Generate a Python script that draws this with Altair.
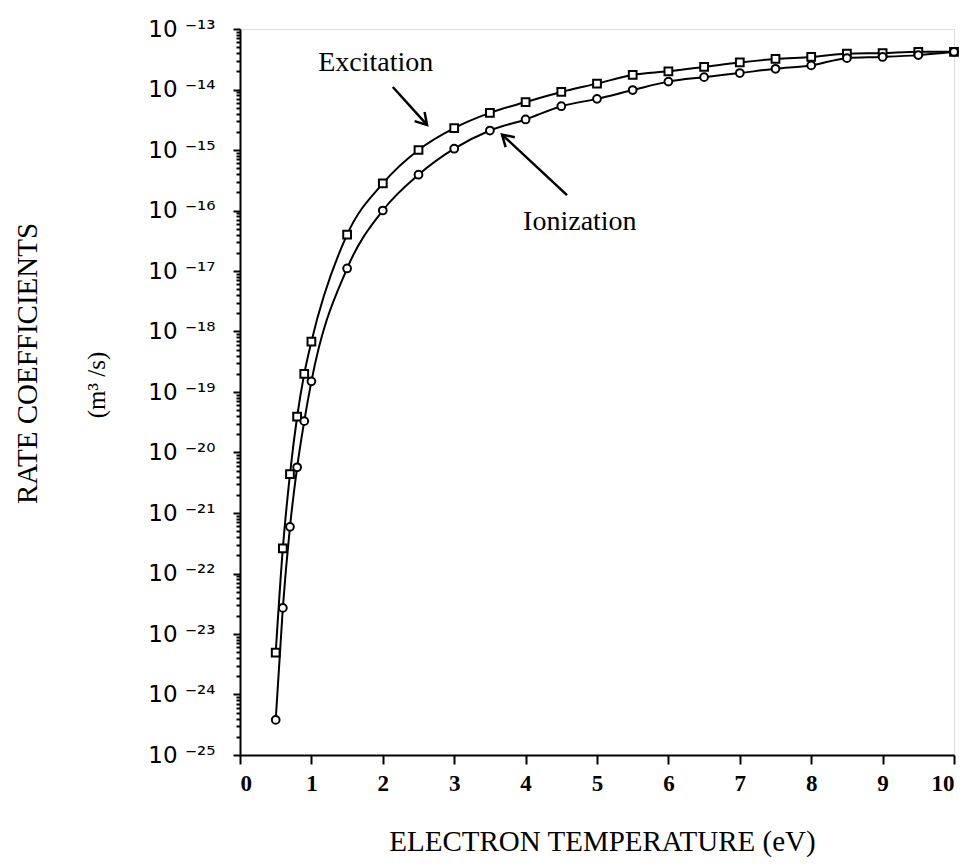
import json
import altair as alt
import pandas as pd

# Electron temperature (eV) at which the rate coefficients were computed
temperature = [0.5, 0.6, 0.7, 0.8, 0.9, 1.0, 1.5, 2.0, 2.5, 3.0, 3.5, 4.0,
               4.5, 5.0, 5.5, 6.0, 6.5, 7.0, 7.5, 8.0, 8.5, 9.0, 9.5, 10.0]

# Rate coefficients (m^3/s)
excitation = [4.9e-24, 2.6e-22, 4.4e-21, 3.9e-20, 2.0e-19, 6.8e-19, 4.0e-17,
              2.8e-16, 1.0e-15, 2.3e-15, 4.1e-15, 6.2e-15, 9.1e-15, 1.25e-14,
              1.74e-14, 2.0e-14, 2.36e-14, 2.8e-14, 3.2e-14, 3.45e-14,
              3.9e-14, 4.0e-14, 4.2e-14, 4.2e-14]
ionization = [3.8e-25, 2.7e-23, 5.9e-22, 5.7e-21, 3.3e-20, 1.5e-19, 1.1e-17,
              1.0e-16, 3.9e-16, 1.05e-15, 2.1e-15, 3.2e-15, 5.3e-15, 7.0e-15,
              9.8e-15, 1.35e-14, 1.6e-14, 1.87e-14, 2.2e-14, 2.5e-14,
              3.3e-14, 3.45e-14, 3.7e-14, 4.2e-14]

# Decade tick labels, from 1e-13 down to 1e-25
decade_labels = ["10 ⁻¹³", "10 ⁻¹⁴", "10 ⁻¹⁵", "10 ⁻¹⁶", "10 ⁻¹⁷", "10 ⁻¹⁸",
                 "10 ⁻¹⁹", "10 ⁻²⁰", "10 ⁻²¹", "10 ⁻²²", "10 ⁻²³", "10 ⁻²⁴",
                 "10 ⁻²⁵"]

# Curve annotations: label text and position, arrow tail/head and head angle
ann_text = ["Excitation", "Ionization"]
ann_x = [1.90, 4.76]
ann_y = [2.75e-14, 6.5e-17]
arrow_x = [2.14, 4.58]
arrow_y = [1.1e-14, 1.8e-16]
arrow_x2 = [2.62, 3.67]
arrow_y2 = [2.6e-15, 1.8e-15]
arrow_angle = [138, 313]

SERIF = "Liberation Serif"

df = pd.DataFrame({
    "T": temperature * 2,
    "k": excitation + ionization,
    "series": ["Excitation"] * len(temperature) + ["Ionization"] * len(temperature),
})
ann = pd.DataFrame({"text": ann_text, "x": ann_x, "y": ann_y})
arrows = pd.DataFrame({"x": arrow_x, "y": arrow_y, "x2": arrow_x2,
                       "y2": arrow_y2, "angle": arrow_angle})
units = pd.DataFrame({"t": ["(m³ /s)"]})

x_ticks = [i * 0.5 for i in range(21)]
y_ticks = [m * 10.0 ** e for e in range(-25, -12) for m in range(1, 10)
           if m * 10.0 ** e <= 1.0000001e-13]

is_decade = "abs(log(datum.value)/LN10 - round(log(datum.value)/LN10)) < 0.01"
y_label_expr = (is_decade + " ? " + json.dumps(decade_labels, ensure_ascii=False)
                + "[round(-log(datum.value)/LN10) - 13] : ''")

x_scale = alt.Scale(domain=[0, 10], nice=False, zero=False)
y_scale = alt.Scale(type="log", domain=[1e-25, 1e-13], nice=False)

x_axis = alt.Axis(
    values=x_ticks,
    labelExpr="datum.value % 1 === 0 ? format(datum.value, 'd') : ''",
    labelOverlap=False,
    tickSize={"condition": {"test": "datum.value % 1 === 0", "value": 9}, "value": 5},
    tickWidth=2, tickColor="black",
    labelFont=SERIF, labelFontSize=23, labelFontWeight="bold", labelColor="black",
    labelPadding=8,
    domainColor="black", domainWidth=2, grid=False,
    title="ELECTRON TEMPERATURE (eV)", titleFont=SERIF, titleFontSize=29,
    titleFontWeight="normal", titleColor="black",
    titleX=362, titleY=86, titleAlign="center", titleBaseline="middle",
)
y_axis = alt.Axis(
    values=y_ticks,
    labelExpr=y_label_expr,
    labelOverlap=False,
    tickSize={"condition": {"test": is_decade, "value": 7}, "value": 4},
    tickWidth=2, tickColor="black",
    labelFont="DejaVu Sans", labelFontSize=23, labelColor="black",
    labelPadding=18, labelBaseline="middle",
    domainColor="black", domainWidth=2, grid=False,
    title="RATE COEFFICIENTS", titleFont=SERIF, titleFontSize=29,
    titleFontWeight="normal", titleColor="black",
    titleAngle=270, titleX=-213, titleY=334, titleAlign="center",
    titleBaseline="middle",
)

base = alt.Chart(df)

lines = base.mark_line(color="black", strokeWidth=2, interpolate="monotone").encode(
    x=alt.X("T:Q", scale=x_scale, axis=x_axis),
    y=alt.Y("k:Q", scale=y_scale, axis=y_axis),
    detail="series:N",
)

points = base.mark_point(filled=True, fill="white", stroke="black",
                         strokeWidth=2, size=60, opacity=1).encode(
    x="T:Q",
    y="k:Q",
    shape=alt.Shape("series:N",
                    scale=alt.Scale(domain=["Excitation", "Ionization"],
                                    range=["square", "circle"]),
                    legend=None),
)

labels = alt.Chart(ann).mark_text(font=SERIF, fontSize=28, color="black",
                                  align="center", baseline="middle").encode(
    x="x:Q", y="y:Q", text="text:N",
)

shafts = alt.Chart(arrows).mark_rule(color="black", strokeWidth=2.5).encode(
    x="x:Q", y="y:Q", x2="x2:Q", y2="y2:Q",
)

heads = alt.Chart(arrows).mark_point(
    shape="M -0.6 1 L 0 0 L 0.6 1", filled=False, stroke="black",
    strokeWidth=2.5, size=500, opacity=1,
).encode(
    x="x2:Q", y="y2:Q", angle=alt.Angle("angle:Q", scale=None),
)

unit_label = alt.Chart(units).mark_text(font=SERIF, fontSize=25, color="black",
                                        angle=270, align="center",
                                        baseline="middle").encode(
    x=alt.value(-143), y=alt.value(356), text="t:N",
)

chart = alt.layer(lines, points, shafts, heads, labels, unit_label).properties(
    width=714,
    height=726,
    autosize=alt.AutoSizeParams(type="none"),
    padding={"left": 240, "top": 29, "right": 17, "bottom": 112},
).configure_view(
    stroke="black", strokeWidth=2,
).configure(background="white")

chart.save("out.html", embed_options={"renderer": "svg", "actions": False})
